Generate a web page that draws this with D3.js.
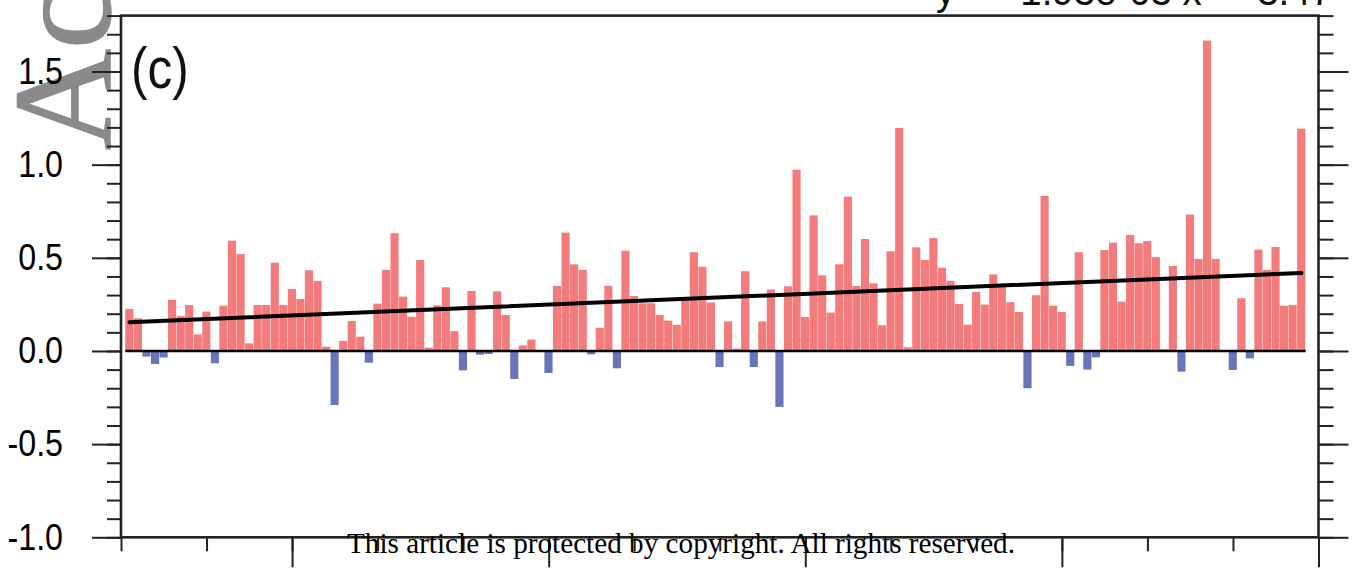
<!DOCTYPE html>
<html>
<head>
<meta charset="utf-8">
<script src="https://cdn.jsdelivr.net/npm/d3@7"></script>
<style>
  body { margin: 0; background: #fff; }
  svg { display: block; }
  .wm { font-family: "Liberation Serif", "DejaVu Serif", serif; font-size: 140px; }
</style>
</head>
<body>
<svg id="chart"></svg>
<script>
// yearly anomalies, first bar is 1881, last is 2018
const firstYear = 1881;
const anomaly = [
  0.225, 0.175, -0.03, -0.07, -0.035, 0.274, 0.188, 0.247, 0.089, 0.211,   // 1881-1890
  -0.066, 0.243, 0.592, 0.52, 0.041, 0.247, 0.247, 0.474, 0.247, 0.333,    // 1891-1900
  0.279, 0.433, 0.376, 0.023, -0.29, 0.054, 0.161, 0.077, -0.063, 0.254,   // 1901-1910
  0.435, 0.632, 0.292, 0.184, 0.488, 0.018, 0.245, 0.342, 0.107, -0.104,   // 1911-1920
  0.322, -0.02, -0.016, 0.32, 0.193, -0.15, 0.03, 0.061, 0.005, -0.118,    // 1921-1930
  0.349, 0.635, 0.465, 0.435, -0.018, 0.125, 0.35, -0.093, 0.538, 0.295,   // 1931-1940
  0.256, 0.256, 0.193, 0.163, 0.14, 0.274, 0.53, 0.452, 0.26, -0.086,      // 1941-1950
  0.159, 0.013, 0.428, -0.086, 0.159, 0.33, -0.3, 0.347, 0.973, 0.182,     // 1951-1960
  0.728, 0.406, 0.206, 0.465, 0.828, 0.349, 0.601, 0.363, 0.138, 0.535,    // 1961-1970
  1.197, 0.02, 0.556, 0.488, 0.606, 0.447, 0.377, 0.252, 0.141, 0.317,     // 1971-1980
  0.249, 0.411, 0.345, 0.262, 0.209, -0.2, 0.299, 0.832, 0.243, 0.209,     // 1981-1990
  -0.08, 0.53, -0.10, -0.034, 0.542, 0.581, 0.265, 0.623, 0.578, 0.59,     // 1991-2000
  0.504, 0.01, 0.456, -0.111, 0.732, 0.494, 1.666, 0.494, 0.0, -0.102,     // 2001-2010
  0.283, -0.04, 0.544, 0.435, 0.558, 0.243, 0.247, 1.193                   // 2011-2018
];
const years = anomaly.map((v, i) => firstYear + i);

const yMajor = [-1.0, -0.5, 0.0, 0.5, 1.0, 1.5];
const yMinor = d3.range(-10, 19).map(d => d / 10);
const xMinor = d3.range(1880, 2021, 10);
const xMajor = [1900, 1930, 1960, 1990, 2020];

const trendSlope = 1.93e-3;
const trendIntercept = -3.476;
const trendLabel = "y  =  1.93e-03 x  -  3.47";
const panelLabel = "(c)";
const watermark = "Accepted Article";
const copyright = "This article is protected by copyright. All rights reserved.";

const width = 1355, height = 568;
const plot = { left: 121, right: 1318.5, top: 15.6, bottom: 537.3 };
const squeeze = 0.87;
const sans = "'Liberation Sans', Arial, Helvetica, sans-serif";
const serif = "'Liberation Serif', 'Times New Roman', Times, serif";

const svg = d3.select("#chart")
    .attr("width", width)
    .attr("height", height)
    .attr("viewBox", [0, 0, width, height]);

svg.append("rect").attr("width", width).attr("height", height).attr("fill", "#fff");

const x = d3.scaleLinear().domain([1880, 2020]).range([plot.left, plot.right]);
const y = d3.scaleLinear().domain([-1, 1.8]).range([plot.bottom, plot.top]);
const step = x(1881) - x(1880);

// grey rotated watermark behind everything
svg.append("text")
    .attr("class", "wm")
    .attr("transform", "translate(110,150) rotate(-90)")
    .attr("fill", "#8a8a8a")
    .attr("stroke", "#8a8a8a")
    .attr("stroke-width", 1.5)
    .text(watermark);

// bars
svg.append("g")
    .selectAll("rect")
    .data(anomaly)
    .join("rect")
    .attr("x", (d, i) => x(years[i]) - step / 2)
    .attr("width", step - 0.4)
    .attr("y", d => y(Math.max(0, d)))
    .attr("height", d => Math.abs(y(d) - y(0)))
    .attr("fill", d => d >= 0 ? "#f47b7b" : "#6875ba");

// zero line
svg.append("line")
    .attr("x1", x(years[0]) - step / 2)
    .attr("x2", x(years[years.length - 1]) + step / 2)
    .attr("y1", y(0)).attr("y2", y(0))
    .attr("stroke", "#000").attr("stroke-width", 2.6);

// trend line
const ends = [years[0], years[years.length - 1]];
svg.append("path")
    .datum(ends)
    .attr("d", d3.line().x(d => x(d)).y(d => y(trendSlope * d + trendIntercept)))
    .attr("stroke", "#000")
    .attr("stroke-width", 4)
    .attr("stroke-linecap", "round")
    .attr("fill", "none");

// axes (ticks pointing outward)
function ticks(g, axis) {
    g.call(axis);
    g.select(".domain").remove();
    g.selectAll(".tick line").attr("stroke", "#222").attr("stroke-width", 2);
}
const noLabel = () => "";

svg.append("g").attr("transform", `translate(${plot.left},0)`)
    .call(g => ticks(g, d3.axisLeft(y).tickValues(yMinor).tickSize(14).tickFormat(noLabel)));
const leftMajor = svg.append("g").attr("transform", `translate(${plot.left},0)`)
    .call(g => ticks(g, d3.axisLeft(y).tickValues(yMajor).tickSize(29).tickPadding(29)
        .tickFormat(d => d.toFixed(1))));
leftMajor.selectAll("text")
    .style("font-family", sans)
    .style("font-size", "37px")
    .attr("fill", "#000");

svg.append("g").attr("transform", `translate(${plot.right},0)`)
    .call(g => ticks(g, d3.axisRight(y).tickValues(yMinor).tickSize(15).tickFormat(noLabel)));
svg.append("g").attr("transform", `translate(${plot.right},0)`)
    .call(g => ticks(g, d3.axisRight(y).tickValues(yMajor).tickSize(30).tickFormat(noLabel)));

svg.append("g").attr("transform", `translate(0,${plot.bottom})`)
    .call(g => ticks(g, d3.axisBottom(x).tickValues(xMinor).tickSize(14).tickFormat(noLabel)));
svg.append("g").attr("transform", `translate(0,${plot.bottom})`)
    .call(g => ticks(g, d3.axisBottom(x).tickValues(xMajor).tickSize(30).tickFormat(noLabel)));

// frame
svg.append("rect")
    .attr("x", plot.left).attr("y", plot.top)
    .attr("width", plot.right - plot.left)
    .attr("height", plot.bottom - plot.top)
    .attr("fill", "none")
    .attr("stroke", "#222")
    .attr("stroke-width", 2.6);

// panel letter
svg.append("text")
    .attr("class", "narrow")
    .attr("x", 131).attr("y", 88)
    .style("font-family", sans)
    .style("font-size", "57px")
    .attr("fill", "#111")
    .text(panelLabel);

// regression formula, mostly cut off at the top
svg.append("text")
    .attr("x", 936).attr("y", 5)
    .style("font-family", sans)
    .style("font-size", "40px")
    .style("white-space", "pre")
    .attr("textLength", 396)
    .attr("lengthAdjust", "spacingAndGlyphs")
    .attr("fill", "#111")
    .text(trendLabel);

// copyright line
svg.append("text")
    .attr("x", 347).attr("y", 553)
    .style("font-family", serif)
    .style("font-size", "29px")
    .attr("textLength", 668)
    .attr("lengthAdjust", "spacingAndGlyphs")
    .attr("fill", "#000")
    .text(copyright);

// the sans text in the figure is a bit narrower than Liberation Sans
leftMajor.selectAll("text").each(function () {
    d3.select(this).attr("textLength", this.getComputedTextLength() * squeeze).attr("lengthAdjust", "spacingAndGlyphs");
});
svg.selectAll("text.narrow").each(function () {
    d3.select(this).attr("textLength", this.getComputedTextLength() * squeeze).attr("lengthAdjust", "spacingAndGlyphs");
});
</script>
</body>
</html>
